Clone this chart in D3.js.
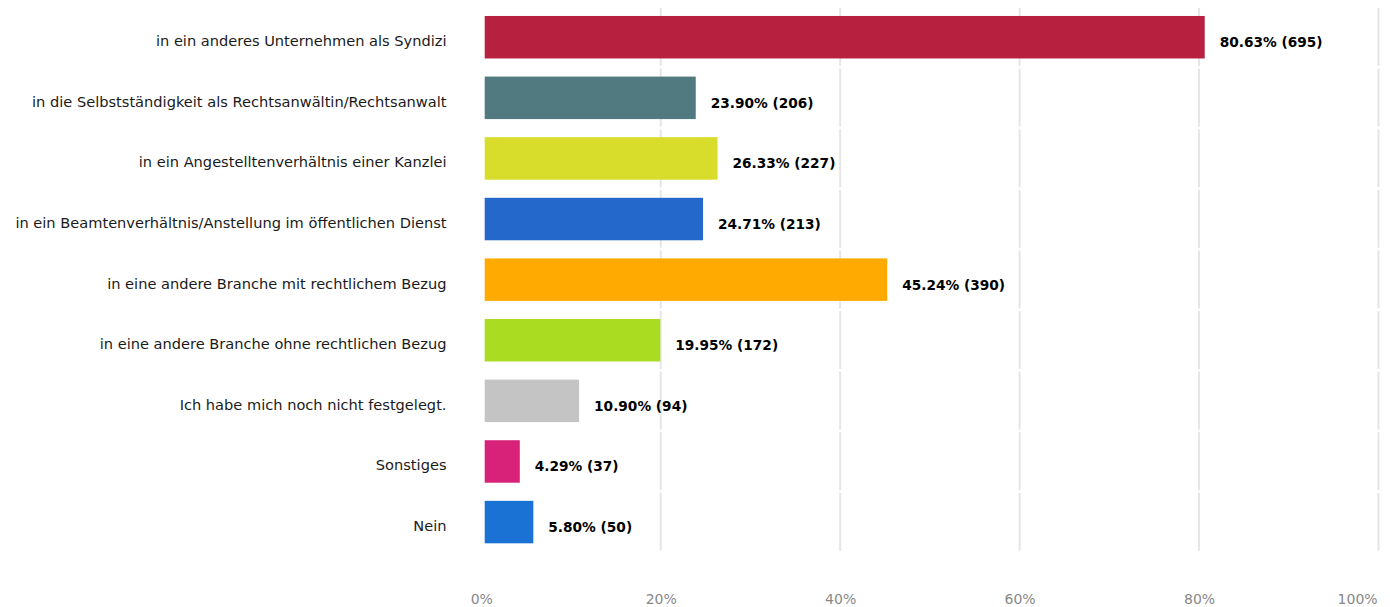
<!DOCTYPE html>
<html>
<head>
<meta charset="utf-8">
<script src="https://cdn.jsdelivr.net/npm/d3@7/dist/d3.min.js"></script>
<style>
  html, body { margin: 0; padding: 0; background: #fff; }
  svg { display: block; font-family: "DejaVu Sans", sans-serif; }
</style>
</head>
<body>
<svg id="chart" width="1390" height="607"></svg>
<script>
// Answer categories, in display order
const categories = [
  "in ein anderes Unternehmen als Syndizi",
  "in die Selbstständigkeit als Rechtsanwältin/Rechtsanwalt",
  "in ein Angestelltenverhältnis einer Kanzlei",
  "in ein Beamtenverhältnis/Anstellung im öffentlichen Dienst",
  "in eine andere Branche mit rechtlichem Bezug",
  "in eine andere Branche ohne rechtlichen Bezug",
  "Ich habe mich noch nicht festgelegt.",
  "Sonstiges",
  "Nein"
];
// Share of respondents (%) and absolute counts
const percents = [80.63, 23.90, 26.33, 24.71, 45.24, 19.95, 10.90, 4.29, 5.80];
const counts = [695, 206, 227, 213, 390, 172, 94, 37, 50];
const barColors = ["#b8203f", "#507a80", "#d8dc2a", "#2468cc", "#ffaa00", "#aadc22", "#c4c4c4", "#d82178", "#1a73d4"];
const tickValues = [0, 20, 40, 60, 80, 100];

const svg = d3.select("#chart");
const plotLeft = 481.3, plotRight = 1378.5, plotTop = 6.95, plotBottom = 552.35;
const barInset = 3.4; // bars start just right of the zero line

const x = d3.scaleLinear().domain([0, 100]).range([plotLeft, plotRight]);
const y = d3.scaleBand().domain(categories).range([plotTop, plotBottom]).paddingInner(0.299).paddingOuter(0.149);

const rows = categories.map((c, i) => ({ cat: c, pct: percents[i], n: counts[i], color: barColors[i] }));

// Vertical grid lines, drawn per row with a small gap between rows
const step = y.step();
const gridG = svg.append("g");
categories.forEach((c, i) => {
  const y0 = plotTop + i * step;
  gridG.selectAll(null).data(tickValues.filter(t => t > 0)).enter().append("line")
    .attr("x1", d => x(d)).attr("x2", d => x(d))
    .attr("y1", y0 + 1).attr("y2", y0 + step - 1.5)
    .attr("stroke", "#e6e6e6").attr("stroke-width", 2);
});

// Bars
svg.append("g").selectAll("rect").data(rows).enter().append("rect")
  .attr("x", x(0) + barInset)
  .attr("y", d => y(d.cat))
  .attr("width", d => x(d.pct) - x(0) - barInset)
  .attr("height", y.bandwidth())
  .attr("fill", d => d.color);

// Category labels
svg.append("g").selectAll("text").data(rows).enter().append("text")
  .attr("x", 446.5)
  .attr("y", d => y(d.cat) + y.bandwidth() / 2 + 9)
  .attr("text-anchor", "end")
  .attr("font-size", 14.6)
  .attr("fill", "#1a1a1a")
  .text(d => d.cat);

// Value labels
svg.append("g").selectAll("text").data(rows).enter().append("text")
  .attr("x", d => x(d.pct) + 15)
  .attr("y", d => y(d.cat) + y.bandwidth() / 2 + 10)
  .attr("font-size", 13.7)
  .attr("font-weight", "bold")
  .attr("fill", "#000")
  .text(d => d.pct.toFixed(2) + "% (" + d.n + ")");

// Bottom axis
const axis = d3.axisBottom(x).tickValues(tickValues).tickFormat(d => d + "%").tickSize(0).tickPadding(0);
const axG = svg.append("g").attr("transform", "translate(0,593)").call(axis);
axG.select(".domain").remove();
axG.selectAll("text")
  .attr("font-size", 14).attr("fill", "#888").attr("font-family", "DejaVu Sans, sans-serif")
  .attr("dy", "0.8em");
// keep the last tick label inside the plot's right edge
axG.selectAll(".tick").filter(d => d === 100).select("text").attr("text-anchor", "end").attr("dx", "-0.1em");
</script>
</body>
</html>
